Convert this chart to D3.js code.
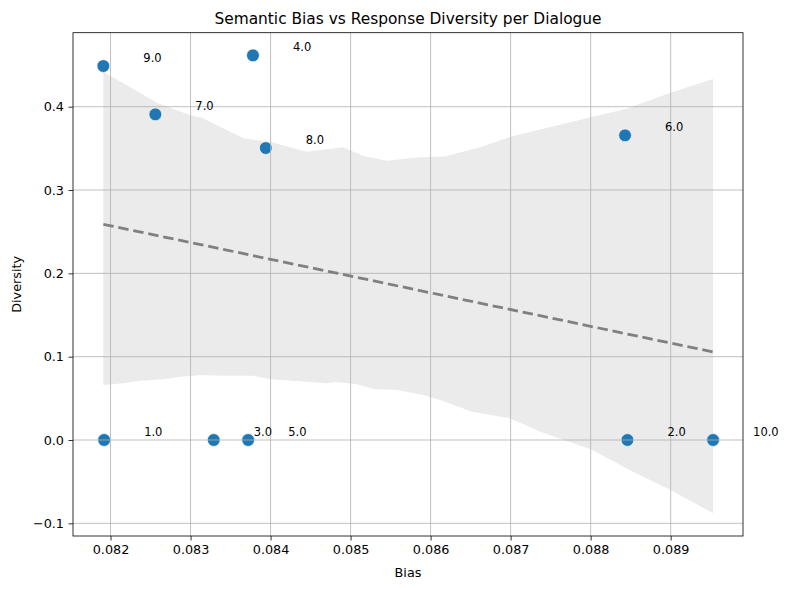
<html>
  <head>
    <meta charset="UTF-8">
    <script src="https://d3js.org/d3.v7.min.js"></script>
    <style>
      body { margin: 0; background: #fff; font-family: "DejaVu Sans", sans-serif; }
    </style>
  </head>
  <body>
    <svg width="790" height="590"></svg>
    <script>
      // dialogue points: id, bias, diversity
      const dialogueIds = [1, 2, 3, 4, 5, 6, 7, 8, 9, 10];
      const biasValues = [0.08192, 0.08846, 0.08329, 0.08378, 0.08372, 0.08843, 0.08256, 0.08394, 0.08191, 0.08953];
      const diversityValues = [0.0, 0.0, 0.0, 0.4616, 0.0, 0.3656, 0.3908, 0.3504, 0.4488, 0.0];

      // confidence band edges
      const upperBias = [0.08191, 0.08258, 0.08299, 0.08314, 0.08366, 0.08399, 0.08445, 0.08491, 0.08516, 0.08545, 0.08587, 0.08616, 0.08662, 0.08700, 0.08800, 0.08845, 0.08900, 0.08953];
      const upperDiv = [0.4420, 0.4048, 0.3900, 0.3868, 0.3621, 0.3580, 0.3460, 0.3513, 0.3408, 0.3352, 0.3393, 0.3400, 0.3513, 0.3640, 0.3873, 0.3976, 0.4168, 0.4332];
      const lowerBias = [0.08191, 0.08216, 0.08237, 0.08266, 0.08287, 0.08314, 0.08341, 0.08379, 0.08399, 0.08433, 0.08470, 0.08483, 0.08508, 0.08529, 0.08558, 0.08591, 0.08612, 0.08652, 0.08699, 0.08737, 0.08800, 0.08853, 0.08900, 0.08953];
      const lowerDiv = [0.0660, 0.0680, 0.0712, 0.0728, 0.0760, 0.0780, 0.0772, 0.0772, 0.0728, 0.0708, 0.0680, 0.0696, 0.0668, 0.0612, 0.0600, 0.0540, 0.0480, 0.0340, 0.0260, 0.0100, -0.0112, -0.0380, -0.0600, -0.0880];

      const xTicks = [0.082, 0.083, 0.084, 0.085, 0.086, 0.087, 0.088, 0.089];
      const yTicks = [-0.1, 0.0, 0.1, 0.2, 0.3, 0.4];

      const svg = d3.select("svg");
      const pLeft = 73, pRight = 743, pTop = 32.7, pBottom = 536;

      const x = d3.scaleLinear().domain([0.081531, 0.089904]).range([pLeft, pRight]);
      const y = d3.scaleLinear().domain([-0.1152, 0.4888]).range([pBottom, pTop]);

      // band
      const bandPts = upperBias.map((b, i) => [x(b), y(upperDiv[i])])
        .concat(lowerBias.map((b, i) => [x(b), y(lowerDiv[i])]).reverse());
      svg.append("path")
        .attr("d", d3.line()(bandPts) + "Z")
        .attr("fill", "#ebebeb");

      // points
      svg.append("g").selectAll("circle")
        .data(dialogueIds)
        .join("circle")
        .attr("cx", (d, i) => x(biasValues[i]))
        .attr("cy", (d, i) => y(diversityValues[i]))
        .attr("r", 6.4)
        .attr("fill", "#1f77b4")
        .attr("stroke", "#fff")
        .attr("stroke-width", 0.7);

      // grid
      const grid = svg.append("g").attr("stroke", "#b0b0b0").attr("stroke-width", 0.8);
      grid.selectAll("line.gx").data(xTicks).join("line")
        .attr("x1", (d) => x(d)).attr("x2", (d) => x(d))
        .attr("y1", pTop).attr("y2", pBottom);
      grid.selectAll("line.gy").data(yTicks).join("line")
        .attr("y1", (d) => y(d)).attr("y2", (d) => y(d))
        .attr("x1", pLeft).attr("x2", pRight);

      // regression line (least squares over the points)
      const mx = d3.mean(biasValues), my = d3.mean(diversityValues);
      const sxy = d3.sum(biasValues, (b, i) => (b - mx) * (diversityValues[i] - my));
      const sxx = d3.sum(biasValues, (b) => (b - mx) * (b - mx));
      const slope = sxy / sxx;
      const [x0, x1] = d3.extent(biasValues);
      svg.append("line")
        .attr("x1", x(x0)).attr("y1", y(my + slope * (x0 - mx)))
        .attr("x2", x(x1)).attr("y2", y(my + slope * (x1 - mx)))
        .attr("stroke", "#808080")
        .attr("stroke-width", 2.8)
        .attr("stroke-dasharray", "10.5 4.8");

      // point labels
      svg.append("g").selectAll("text")
        .data(dialogueIds)
        .join("text")
        .attr("x", (d, i) => x(biasValues[i] + 0.0005))
        .attr("y", (d, i) => y(diversityValues[i] + 0.01) + 4)
        .attr("font-size", "11.5px")
        .attr("fill", "#000")
        .text((d) => d.toFixed(1));

      // axes
      const xAxis = svg.append("g")
        .attr("transform", `translate(0,${pBottom})`)
        .call(d3.axisBottom(x).tickValues(xTicks).tickFormat(d3.format(".3f")).tickSizeOuter(0).tickSize(4.5).tickPadding(4.5));
      const yAxis = svg.append("g")
        .attr("transform", `translate(${pLeft},0)`)
        .call(d3.axisLeft(y).tickValues(yTicks).tickFormat(d3.format(".1f")).tickSizeOuter(0).tickSize(4.5).tickPadding(4.5));
      [xAxis, yAxis].forEach((a) => {
        a.select(".domain").remove();
        a.selectAll("line").attr("stroke", "#000").attr("stroke-width", 0.8);
        a.selectAll("text").attr("font-size", "12.8px").attr("font-family", "DejaVu Sans").attr("fill", "#000");
      });

      svg.append("rect")
        .attr("x", pLeft).attr("y", pTop)
        .attr("width", pRight - pLeft).attr("height", pBottom - pTop)
        .attr("fill", "none").attr("stroke", "#000").attr("stroke-width", 0.8);

      svg.append("text")
        .attr("x", (pLeft + pRight) / 2).attr("y", 24)
        .attr("text-anchor", "middle")
        .attr("font-size", "15.4px")
        .text("Semantic Bias vs Response Diversity per Dialogue");

      svg.append("text")
        .attr("x", (pLeft + pRight) / 2).attr("y", 577)
        .attr("text-anchor", "middle")
        .attr("font-size", "12.8px")
        .text("Bias");

      svg.append("text")
        .attr("transform", `translate(21,${(pTop + pBottom) / 2}) rotate(-90)`)
        .attr("text-anchor", "middle")
        .attr("font-size", "12.8px")
        .text("Diversity");
    </script>
  </body>
</html>
